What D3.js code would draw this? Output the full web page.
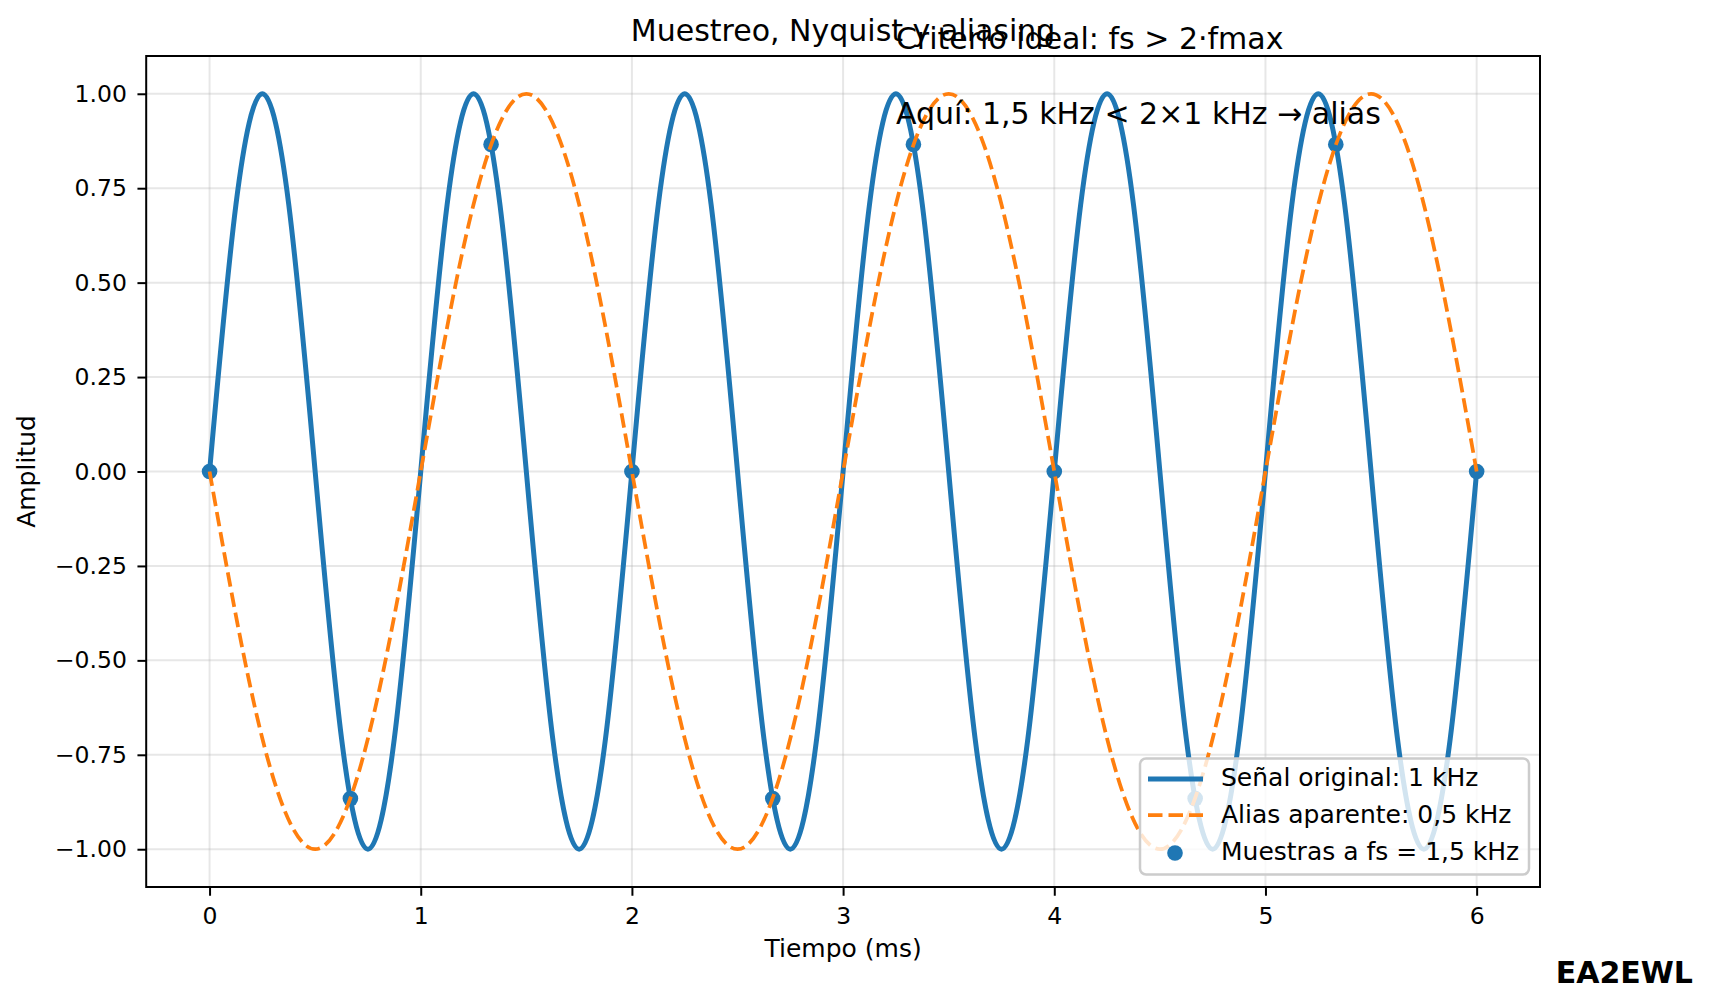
<!DOCTYPE html>
<html>
<head>
<meta charset="utf-8">
<script src="https://cdn.jsdelivr.net/npm/d3@7"></script>
<style>
  html, body { margin: 0; padding: 0; background: #fff; }
  svg { display: block; font-family: "DejaVu Sans", sans-serif; }
</style>
</head>
<body>
<svg id="chart" width="1712" height="1008"></svg>
<script>
// ---- Data ----
// Original 1 kHz signal, sampled every 0.125 ms
const signalTime = [0, 0.125, 0.25, 0.375, 0.5, 0.625, 0.75, 0.875,
  1, 1.125, 1.25, 1.375, 1.5, 1.625, 1.75, 1.875,
  2, 2.125, 2.25, 2.375, 2.5, 2.625, 2.75, 2.875,
  3, 3.125, 3.25, 3.375, 3.5, 3.625, 3.75, 3.875,
  4, 4.125, 4.25, 4.375, 4.5, 4.625, 4.75, 4.875,
  5, 5.125, 5.25, 5.375, 5.5, 5.625, 5.75, 5.875, 6];
const signalValues = [0, 0.707, 1, 0.707, 0, -0.707, -1, -0.707,
  0, 0.707, 1, 0.707, 0, -0.707, -1, -0.707,
  0, 0.707, 1, 0.707, 0, -0.707, -1, -0.707,
  0, 0.707, 1, 0.707, 0, -0.707, -1, -0.707,
  0, 0.707, 1, 0.707, 0, -0.707, -1, -0.707,
  0, 0.707, 1, 0.707, 0, -0.707, -1, -0.707, 0];
// Apparent alias 0.5 kHz, every 0.25 ms
const aliasTime = [0, 0.25, 0.5, 0.75, 1, 1.25, 1.5, 1.75,
  2, 2.25, 2.5, 2.75, 3, 3.25, 3.5, 3.75,
  4, 4.25, 4.5, 4.75, 5, 5.25, 5.5, 5.75, 6];
const aliasValues = [0, -0.707, -1, -0.707, 0, 0.707, 1, 0.707,
  0, -0.707, -1, -0.707, 0, 0.707, 1, 0.707,
  0, -0.707, -1, -0.707, 0, 0.707, 1, 0.707, 0];
// Samples at fs = 1.5 kHz
const sampleTime = [0, 0.667, 1.333, 2, 2.667, 3.333, 4, 4.667, 5.333, 6];
const sampleValues = [0, -0.866, 0.866, 0, -0.866, 0.866, 0, -0.866, 0.866, 0];

const xTicks = [0, 1, 2, 3, 4, 5, 6];
const xTickLabels = ["0", "1", "2", "3", "4", "5", "6"];
const yTicks = [-1, -0.75, -0.5, -0.25, 0, 0.25, 0.5, 0.75, 1];
const yTickLabels = ["\u22121.00", "\u22120.75", "\u22120.50", "\u22120.25", "0.00", "0.25", "0.50", "0.75", "1.00"];

const seriesNames = ["Se\u00f1al original: 1 kHz", "Alias aparente: 0,5 kHz", "Muestras a fs = 1,5 kHz"];
const titleText = "Muestreo, Nyquist y aliasing";
const noteLines = ["Criterio ideal: fs > 2\u00b7fmax", "Aqu\u00ed: 1,5 kHz < 2\u00d71 kHz \u2192 alias"];
const xLabel = "Tiempo (ms)";
const yLabel = "Amplitud";
const signature = "EA2EWL";

// ---- Layout ----
const blue = "#1f77b4", orange = "#ff7f0e";
const L = 146.2, R = 1540, T = 56, B = 887;
const svg = d3.select("#chart");

const x = d3.scaleLinear().domain([-0.3, 6.3]).range([L, R]);
const y = d3.scaleLinear().domain([-1.1, 1.1]).range([B, T]);

// grid
const grid = svg.append("g");
grid.selectAll(".gx").data(xTicks).join("line")
  .attr("x1", d => x(d)).attr("x2", d => x(d)).attr("y1", T).attr("y2", B)
  .attr("stroke", "#b0b0b0").attr("stroke-opacity", 0.3).attr("stroke-width", 2);
grid.selectAll(".gy").data(yTicks).join("line")
  .attr("x1", L).attr("x2", R).attr("y1", d => y(d)).attr("y2", d => y(d))
  .attr("stroke", "#b0b0b0").attr("stroke-opacity", 0.3).attr("stroke-width", 2);

// samples (below lines, as in matplotlib)
svg.append("g").selectAll("circle").data(sampleTime).join("circle")
  .attr("cx", d => x(d)).attr("cy", (d, i) => y(sampleValues[i])).attr("r", 7.8)
  .attr("fill", blue);

const line = d3.line().curve(d3.curveNatural);
svg.append("path")
  .attr("d", line(signalTime.map((t, i) => [x(t), y(signalValues[i])])))
  .attr("fill", "none").attr("stroke", blue).attr("stroke-width", 5)
  .attr("stroke-linejoin", "round").attr("stroke-linecap", "butt");
svg.append("path")
  .attr("d", line(aliasTime.map((t, i) => [x(t), y(aliasValues[i])])))
  .attr("fill", "none").attr("stroke", orange).attr("stroke-width", 3.75)
  .attr("stroke-dasharray", "14.5,6").attr("stroke-linecap", "butt");

// axes
const xAxis = svg.append("g").attr("transform", `translate(0,${B})`)
  .call(d3.axisBottom(x).tickValues(xTicks).tickFormat((d, i) => xTickLabels[i])
    .tickSize(8.75).tickPadding(11.5).tickSizeOuter(0));
const yAxis = svg.append("g").attr("transform", `translate(${L},0)`)
  .call(d3.axisLeft(y).tickValues(yTicks).tickFormat((d, i) => yTickLabels[i])
    .tickSize(8.75).tickPadding(10.5).tickSizeOuter(0));
[xAxis, yAxis].forEach(a => {
  a.select(".domain").remove();
  a.selectAll(".tick line").attr("stroke", "#000").attr("stroke-width", 2);
  a.selectAll(".tick text").attr("fill", "#000").style("font-size", "23.5px")
    .style("font-family", "DejaVu Sans, sans-serif");
});

// spines
svg.append("rect").attr("x", L).attr("y", T).attr("width", R - L).attr("height", B - T)
  .attr("fill", "none").attr("stroke", "#000").attr("stroke-width", 2);

// labels
svg.append("text").attr("x", (L + R) / 2).attr("y", 41).attr("text-anchor", "middle")
  .style("font-size", "30px").text(titleText);
svg.append("text").attr("x", x(3.25)).attr("y", 48.5).style("font-size", "30px").text(noteLines[0]);
svg.append("text").attr("x", x(3.25)).attr("y", 123.5).style("font-size", "30px").text(noteLines[1]);
svg.append("text").attr("x", (L + R) / 2).attr("y", 957).attr("text-anchor", "middle")
  .style("font-size", "25px").text(xLabel);
svg.append("text").attr("transform", `translate(34.5,${(T + B) / 2}) rotate(-90)`)
  .attr("text-anchor", "middle").style("font-size", "25px").text(yLabel);
svg.append("text").attr("x", 1693).attr("y", 983).attr("text-anchor", "end")
  .style("font-size", "30px").style("font-weight", "bold").text(signature);

// legend
const lg = svg.append("g");
lg.append("rect").attr("x", 1140).attr("y", 758.5).attr("width", 389).attr("height", 116)
  .attr("rx", 6).attr("fill", "#fff").attr("fill-opacity", 0.8)
  .attr("stroke", "#cccccc").attr("stroke-width", 2.5);
const rows = [786, 823, 860];
lg.append("line").attr("x1", 1148).attr("x2", 1203).attr("y1", rows[0] - 7).attr("y2", rows[0] - 7)
  .attr("stroke", blue).attr("stroke-width", 5);
lg.append("line").attr("x1", 1148).attr("x2", 1203).attr("y1", rows[1] - 8).attr("y2", rows[1] - 8)
  .attr("stroke", orange).attr("stroke-width", 3.75).attr("stroke-dasharray", "14.5,6");
lg.append("circle").attr("cx", 1175).attr("cy", rows[2] - 7).attr("r", 7.8).attr("fill", blue);
lg.selectAll("text.lt").data(seriesNames).join("text")
  .attr("x", 1221).attr("y", (d, i) => rows[i]).style("font-size", "25px").text(d => d);
</script>
</body>
</html>
